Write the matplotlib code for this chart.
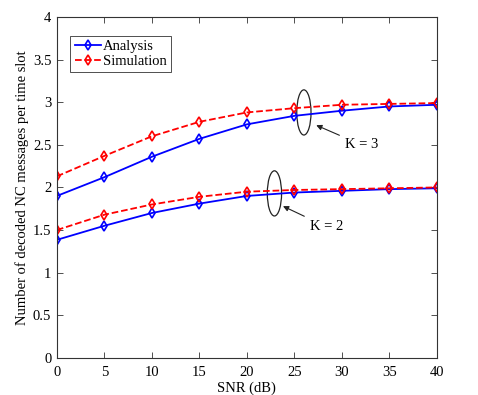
import matplotlib
matplotlib.use("Agg")
import matplotlib.pyplot as plt
from matplotlib.patches import Ellipse

snr = [0, 5, 10, 15, 20, 25, 30, 35, 40]
ana_k3 = [1.90, 2.12, 2.36, 2.57, 2.74, 2.84, 2.90, 2.95, 2.97]
sim_k3 = [2.13, 2.37, 2.60, 2.77, 2.88, 2.93, 2.97, 2.98, 2.99]
ana_k2 = [1.385, 1.55, 1.70, 1.81, 1.90, 1.94, 1.96, 1.98, 1.99]
sim_k2 = [1.50, 1.68, 1.80, 1.89, 1.95, 1.97, 1.98, 1.99, 2.00]
xticks = [0, 5, 10, 15, 20, 25, 30, 35, 40]
yticks = [0, 0.5, 1, 1.5, 2, 2.5, 3, 3.5, 4]
ytick_labels = ["0", "0.5", "1", "1.5", "2", "2.5", "3", "3.5", "4"]

plt.rcParams['font.family'] = ['Liberation Serif', 'DejaVu Serif']

fig = plt.figure(figsize=(4.78, 3.95), dpi=100)
ax = fig.add_axes([0.119, 0.094, 0.795, 0.863])

mk = dict(marker='d', markersize=5, markerfacecolor='none', markeredgewidth=1.2)
ax.plot(snr, ana_k3, '-', color='#0000ff', lw=1.3, label='Analysis', **mk)
ax.plot(snr, sim_k3, '--', color='#ff0000', lw=1.3, label='Simulation', **mk)
ax.plot(snr, ana_k2, '-', color='#0000ff', lw=1.3, **mk)
ax.plot(snr, sim_k2, '--', color='#ff0000', lw=1.3, **mk)

ax.set_xlim(0, 40)
ax.set_ylim(0, 4)
ax.set_xticks(xticks)
ax.set_yticks(yticks)
ax.set_yticklabels(ytick_labels)
ax.tick_params(direction='in', top=True, right=True, length=4, width=0.6,
               labelsize=10.5, color='#333333')
ax.tick_params(axis='x', pad=6)
ax.tick_params(axis='y', pad=4)
for s in ax.spines.values():
    s.set_linewidth(0.8)
    s.set_color('#333333')

ax.set_xlabel('SNR (dB)', fontsize=10.5, labelpad=2)
ax.set_ylabel('Number of decoded NC messages per time slot', fontsize=10.5, labelpad=3)

# ellipses and annotations
ax.add_patch(Ellipse((26.0, 2.88), 1.5, 0.53, fill=False, ec='#222222', lw=0.9))
ax.annotate('K = 3', xy=(27.3, 2.73), xytext=(30.3, 2.50), fontsize=10.5,
            va='center', ha='left',
            arrowprops=dict(arrowstyle='-|>', color='#222222', lw=0.8,
                            mutation_scale=8, shrinkA=2, shrinkB=0))
ax.add_patch(Ellipse((22.9, 1.93), 1.5, 0.53, fill=False, ec='#222222', lw=0.9))
ax.annotate('K = 2', xy=(23.8, 1.78), xytext=(26.6, 1.54), fontsize=10.5,
            va='center', ha='left',
            arrowprops=dict(arrowstyle='-|>', color='#222222', lw=0.8,
                            mutation_scale=8, shrinkA=2, shrinkB=0))

leg = ax.legend(loc='upper left', bbox_to_anchor=(0.035, 0.945), fontsize=10.5,
                handlelength=1.8, handletextpad=0.15, borderpad=0.3,
                labelspacing=0.1, fancybox=False, framealpha=1,
                borderaxespad=0)
leg.get_frame().set_edgecolor('#333333')
leg.get_frame().set_linewidth(0.6)

fig.savefig('out.png', dpi=100)
